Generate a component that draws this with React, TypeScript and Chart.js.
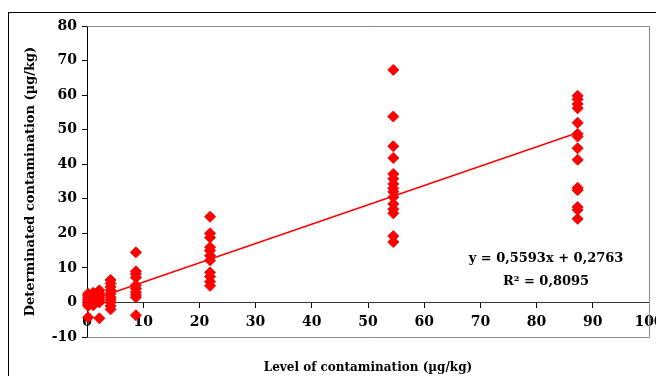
import React, { useEffect, useRef } from 'react';
import { Chart, registerables } from 'chart.js';

Chart.register(...registerables);

// Spiked levels (x) and determined values (y)
const levels = [0.2, 1.1, 2.2, 4.2, 8.7, 21.9, 54.5, 87.3];
const found_0_2 = [2.5, 2, 1.5, 1, 0.5, 0, -0.5, -1, -4.3];
const found_1_1 = [2.8, 2, 1.2, 0.6, 0, -0.8];
const found_2_2 = [3.5, 2.8, 2, 1.2, 0.5, 0, -4.6];
const found_4_2 = [6.5, 5.5, 4.5, 3.5, 2.5, 1.5, 0.8, 0, -1, -2];
const found_8_7 = [14.5, 9, 8.2, 7.2, 5, 4, 3, 2.2, 1.5, -3.7];
const found_21_9 = [24.8, 20, 18.8, 16, 15, 13.5, 12.2, 8.7, 7.5, 6, 4.8];
const found_54_5 = [67.3, 53.8, 45.2, 41.8, 37.2, 35.8, 34.3, 33, 32, 30.5, 28.5, 27, 25.8, 19.2, 17.5];
const found_87_3 = [59.8, 58.8, 57.4, 56.2, 52, 48.8, 48, 44.6, 41.3, 33.2, 32.5, 27.6, 26.8, 24.2];
const foundByLevel = [found_0_2, found_1_1, found_2_2, found_4_2, found_8_7, found_21_9, found_54_5, found_87_3];

// Trend line end points
const trendX = [0, 87.3];
const trendY = [0.28, 49.1];

const xTicks = [0, 10, 20, 30, 40, 50, 60, 70, 80, 90, 100];
const yTicks = [-10, 0, 10, 20, 30, 40, 50, 60, 70, 80];

const equationText = 'y = 0,5593x + 0,2763';
const r2Text = 'R² = 0,8095';
const xTitle = 'Level of contamination (µg/kg)';
const yTitle = 'Determinated contamination (µg/kg)';

const FONT = "'DejaVu Serif', serif";

export default function App() {
  const ref = useRef<HTMLCanvasElement | null>(null);

  useEffect(() => {
    const canvas = ref.current;
    if (!canvas) return;

    const points: { x: number; y: number }[] = [];
    levels.forEach((lv, i) => {
      foundByLevel[i].forEach((v) => points.push({ x: lv, y: v }));
    });

    const plotFrame = {
      id: 'plotFrame',
      beforeDatasetsDraw(chart: any) {
        const { ctx, chartArea } = chart;
        ctx.save();
        ctx.strokeStyle = '#8c8c8c';
        ctx.lineWidth = 1;
        ctx.beginPath();
        ctx.moveTo(Math.round(chartArea.left) + 0.5, Math.round(chartArea.top) + 0.5);
        ctx.lineTo(Math.round(chartArea.right) + 0.5, Math.round(chartArea.top) + 0.5);
        ctx.lineTo(Math.round(chartArea.right) + 0.5, Math.round(chartArea.bottom) + 0.5);
        ctx.lineTo(Math.round(chartArea.left) + 0.5, Math.round(chartArea.bottom) + 0.5);
        ctx.stroke();
        ctx.restore();
      },
      afterDraw(chart: any) {
        const { ctx, chartArea } = chart;
        ctx.save();
        ctx.fillStyle = '#000';
        ctx.font = `bold 13px ${FONT}`;
        ctx.textAlign = 'center';
        ctx.textBaseline = 'middle';
        const cx = chartArea.right - 103;
        ctx.fillText(equationText, cx, chartArea.top + 233);
        ctx.fillText(r2Text, cx, chartArea.top + 256);
        ctx.restore();
      },
    };

    const chart = new Chart(canvas, {
      type: 'scatter',
      data: {
        datasets: [
          {
            type: 'line',
            label: 'trend',
            data: trendX.map((x, i) => ({ x, y: trendY[i] })),
            borderColor: '#ff0000',
            borderWidth: 1.5,
            pointRadius: 0,
            fill: false,
            clip: false as any,
          },
          {
            label: 'determined',
            data: points,
            pointStyle: 'rectRot',
            pointRadius: 5.5,
            backgroundColor: '#ff0000',
            borderColor: '#ff0000',
            borderWidth: 1,
            clip: false as any,
          },
        ],
      },
      options: {
        animation: false,
        responsive: false,
        devicePixelRatio: 1,
        layout: { padding: { left: 10, top: 26, right: 71, bottom: 39 } },
        plugins: { legend: { display: false }, tooltip: { enabled: false } },
        scales: {
          x: {
            type: 'linear',
            position: { y: 0 } as any,
            min: 0,
            max: 100,
            afterBuildTicks: (s: any) => { s.ticks = xTicks.map((v) => ({ value: v })); },
            grid: { drawOnChartArea: false, drawTicks: true, tickLength: 5, color: '#000' },
            border: { display: true, color: '#333', width: 1 },
            ticks: { color: '#000', font: { family: FONT, size: 14, weight: 'bold' }, padding: 7, maxRotation: 0 },
            title: {
              display: true,
              text: xTitle,
              color: '#000',
              font: { family: FONT, size: 12, weight: 'bold' },
              padding: { top: 22, bottom: 0 },
            },
          },
          y: {
            type: 'linear',
            position: 'left',
            min: -10,
            max: 80,
            afterBuildTicks: (s: any) => { s.ticks = yTicks.map((v) => ({ value: v })); },
            afterFit: (s: any) => { s.width = 77; },
            grid: { drawOnChartArea: false, drawTicks: true, tickLength: 5, color: '#000' },
            border: { display: true, color: '#000', width: 1 },
            ticks: { color: '#000', font: { family: FONT, size: 14, weight: 'bold' }, padding: 5 },
            title: {
              display: true,
              text: yTitle,
              color: '#000',
              font: { family: FONT, size: 13, weight: 'bold' },
              padding: { top: 13, bottom: 0 },
            },
          },
        },
      },
      plugins: [plotFrame],
    } as any);

    return () => chart.destroy();
  }, []);

  return (
    <div style={{ position: 'absolute', left: 0, top: 0, width: 656, height: 376, overflow: 'hidden', background: '#fff' }}>
      <div style={{ position: 'absolute', left: 8, top: 12, width: 720, height: 420, border: '1px solid #000' }} />
      <canvas ref={ref} width={720} height={376} style={{ position: 'absolute', left: 0, top: 0 }} />
    </div>
  );
}
